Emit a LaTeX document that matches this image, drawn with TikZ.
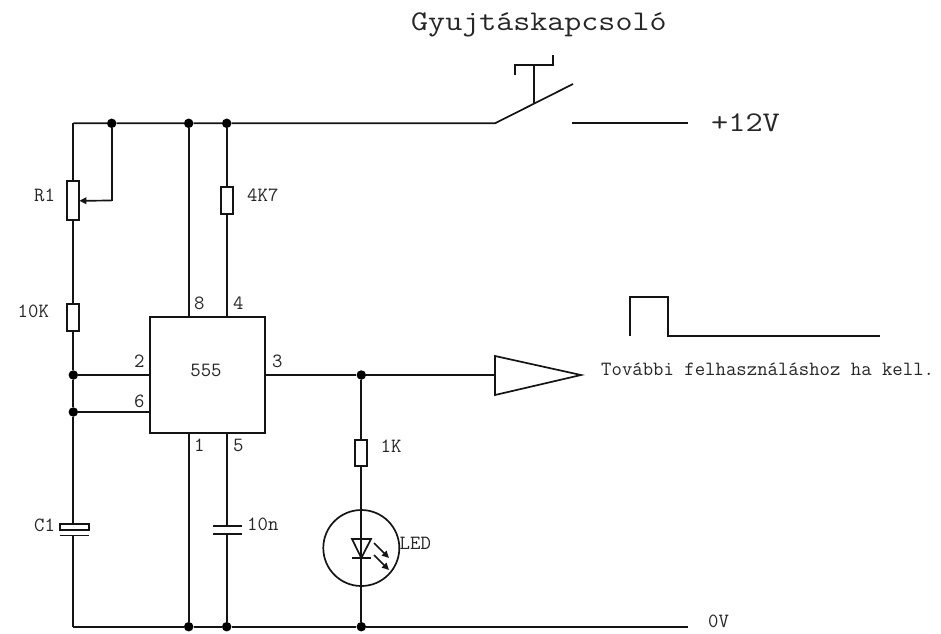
\documentclass[tikz,border=0pt]{standalone}
\usetikzlibrary{arrows.meta,calc}
\tikzset{
 wire/.style={line width=1.7pt,black!92},
 dotj/.style={circle,fill=black,inner sep=0pt,minimum size=9.5pt},
 res/.style={draw=black!92,line width=1.7pt,fill=white,minimum width=12pt,inner sep=0pt,outer sep=0pt},
 lab/.style={inner sep=0pt,text=black!85,font=\ttfamily\fontsize{20.2}{20.2}\selectfont},
 big/.style={inner sep=0pt,text=black!85,font=\ttfamily\fontsize{28.5}{28.5}\selectfont},
 arr/.style={wire,-{Triangle[length=7pt,width=6.5pt]}}
}
\begin{document}
\begin{tikzpicture}[x=1pt,y=-1pt]
\useasboundingbox (0,0) rectangle (941,633);
% junctions and corners
\node[dotj] (jt1) at (111.7,123.3) {};
\node[dotj] (jt2) at (188.7,123.3) {};
\node[dotj] (jt3) at (226.7,123.3) {};
\node[dotj] (jb1) at (188.7,626.7) {};
\node[dotj] (jb2) at (226.7,626.7) {};
\node[dotj] (jb3) at (361.3,626.7) {};
\node[dotj] (j2) at (73.3,375) {};
\node[dotj] (j6) at (73.3,412) {};
\node[dotj] (j3) at (361.3,375) {};
\coordinate (tl) at (73.3,123.3);
\coordinate (bl) at (73.3,626.7);
\coordinate (swa) at (495,123.3);
\coordinate (swb) at (573,84);
\coordinate (swm) at (534,103.7);
\coordinate (swc) at (572,123.3);
\coordinate (pos) at (688,123.3);
\coordinate (neg) at (688,626.7);
\coordinate (wc) at (111.7,200.5);
% components
\node[res,minimum height=39pt] (r1) at (73.3,200.8) {};
\node[res,minimum height=27pt] (r10k) at (73.3,317.5) {};
\node[res,minimum height=27pt] (r4k7) at (226.7,200.8) {};
\node[res,minimum height=26pt] (r1k) at (361.3,453) {};
\node[draw=black!92,line width=1.7pt,fill=white,minimum width=115pt,minimum height=116pt,inner sep=0pt,outer sep=0pt] (ic) at (207.7,375) {};
\node[lab,anchor=base] (t555) at (206,376) {555};
\node[draw=black!92,line width=1.7pt,fill=white,minimum width=29pt,minimum height=6pt,inner sep=0pt,outer sep=0pt] (c1a) at (74.5,527) {};
\coordinate (c1b) at (73.3,535.5);
\coordinate (c2a) at (226.7,526);
\coordinate (c2b) at (226.7,534);
\node[draw=black!92,line width=1.7pt,circle,minimum size=76pt,inner sep=0pt,outer sep=0pt] (led) at (361.3,548) {};
\coordinate (ledb) at (361.3,558);
% wires
\draw[wire] (tl) -- (jt1) -- (jt2) -- (jt3) -- (swa) -- (swb);
\draw[wire] (tl) -- (r1.north);
\draw[wire] (r1.south) -- (r10k.north);
\draw[wire] (r10k.south) -- (j2) -- (j6) -- (c1a.north -| j6);
\draw[wire] (jt1) -- (wc);
\draw[arr] (wc) -- (r1.east);
\draw[wire] (jt2) -- (jt2 |- ic.north);
\draw[wire] (jt3) -- (r4k7.north);
\draw[wire] (r4k7.south) -- (jt3 |- ic.north);
\draw[wire] (j2) -- (j2 -| ic.west);
\draw[wire] (j6) -- (j6 -| ic.west);
\draw[wire] (j2 -| ic.east) -- (j3) -- (495,375);
\draw[wire] (j3) -- (r1k.north);
\draw[wire] (r1k.south) -- (jb3);
\draw[wire] (jb1 |- ic.south) -- (jb1);
\draw[wire] (jb2 |- ic.south) -- (c2a);
\draw[wire] (c2b) -- (jb2);
\draw[wire] (bl) -- (jb1) -- (jb2) -- (jb3) -- (neg);
\draw[wire] (c1b) -- (bl);
% capacitor plates
\draw[wire] (60,535.5) -- (89,535.5);
\draw[wire] (213,526) -- (242,526);
\draw[wire] (213,534) -- (242,534);
% switch
\draw[wire] (swc) -- (pos);
\draw[wire] (swm) -- (534,65);
\draw[wire] (515,75) -- (515,65) -- (553,65) -- (553,55);
% led
\draw[wire,line join=miter] (352,539) -- (371,539) -- (ledb) -- cycle;
\draw[wire] (352,558) -- (371,558);
\draw[arr] (374,543) -- (389,558);
\draw[arr] (374,555) -- (389,570);
% buffer and pulse
\draw[wire] (495,356) -- (495,395) -- (581,375) -- cycle;
\draw[wire] (630,336) -- (630,297) -- (668,297) -- (668,336) -- (880,336);
% labels
\node[big,anchor=base west] (tg) at (411,30) {\scalebox{1.16}[1]{Gyujtáskapcsoló}};
\node[big,anchor=base west] (t12) at (711,131) {\scalebox{1.17}[1]{+12V}};
\node[lab,anchor=base west] (tr1) at (34,201) {R1};
\node[lab,anchor=base west] (t10k) at (17.5,317) {10K};
\node[lab,anchor=base west] (t4k7) at (247,201) {4K7};
\node[lab,anchor=base west] (tc1) at (34,531) {C1};
\node[lab,anchor=base west] (t10n) at (247,530) {10n};
\node[lab,anchor=base west] (t1k) at (380.5,452) {1K};
\node[lab,anchor=base west] (tled) at (399.5,549) {LED};
\node[lab,anchor=base west] (t0v) at (708,627) {0V};
\node[lab,anchor=base west] (p8) at (194,309) {8};
\node[lab,anchor=base west] (p4) at (233,309) {4};
\node[lab,anchor=base west] (p2) at (134,367) {2};
\node[lab,anchor=base west] (p6) at (134,407) {6};
\node[lab,anchor=base west] (p3) at (272,367) {3};
\node[lab,anchor=base west] (p1) at (194,451) {1};
\node[lab,anchor=base west] (p5) at (233,451) {5};
\node[lab,anchor=base west] (tf) at (601,375) {További felhasználáshoz ha kell.};
\end{tikzpicture}
\end{document}
